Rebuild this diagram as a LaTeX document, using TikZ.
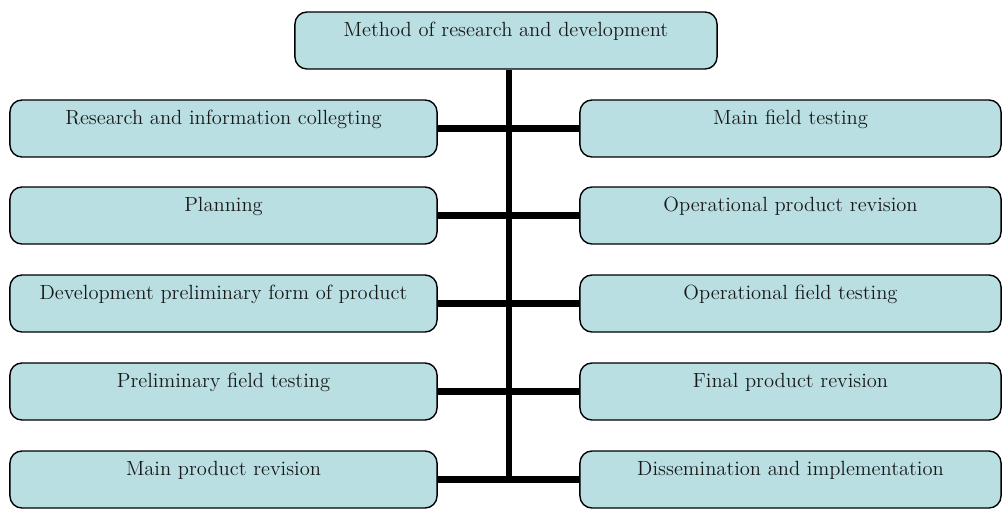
\documentclass[tikz,border=0pt]{standalone}
\usepackage{tikz}
\usetikzlibrary{positioning}
\definecolor{boxfill}{RGB}{185,223,227}
\definecolor{boxtext}{RGB}{25,25,25}

\tikzset{
  stepbox/.style={draw=black,line width=1pt,fill=boxfill,rounded corners=0.3cm,
    minimum height=1.425cm,inner sep=0pt,text=boxtext,
    font=\fontsize{14.6}{17}\selectfont,text height=0.37cm,text depth=0.595cm},
  leftbox/.style={stepbox,minimum width=10.675cm},
  rightbox/.style={stepbox,minimum width=10.525cm},
  bar/.style={line width=4.3pt}
}

\begin{document}
\begin{tikzpicture}[x=0.025cm,y=-0.025cm]
    \useasboundingbox (0,0) rectangle (1002,508);

    % Root
    \node[stepbox,minimum width=10.55cm] (top) at (506,40.5) {Method of research and development};

    % Left column
    \node[leftbox] (l1) at (223.5,128.5) {Research and information collegting};
    \node[leftbox] (l2) at (223.5,215.5) {Planning};
    \node[leftbox] (l3) at (223.5,303.5) {Development preliminary form of product};
    \node[leftbox] (l4) at (223.5,391.5) {Preliminary field testing};
    \node[leftbox] (l5) at (223.5,479.5) {Main product revision};

    % Right column
    \node[rightbox] (r1) at (790.5,128.5) {Main field testing};
    \node[rightbox] (r2) at (790.5,215.5) {Operational product revision};
    \node[rightbox] (r3) at (790.5,303.5) {Operational field testing};
    \node[rightbox] (r4) at (790.5,391.5) {Final product revision};
    \node[rightbox] (r5) at (790.5,479.5) {Dissemination and implementation};

    % Spine and branches
    \coordinate (spine) at (509,479.5);
    \draw[bar] (top.south -| spine) -- (spine);
    \foreach \i in {1,...,5}
        \draw[bar] (l\i.east) -- (r\i.west);
\end{tikzpicture}
\end{document}
